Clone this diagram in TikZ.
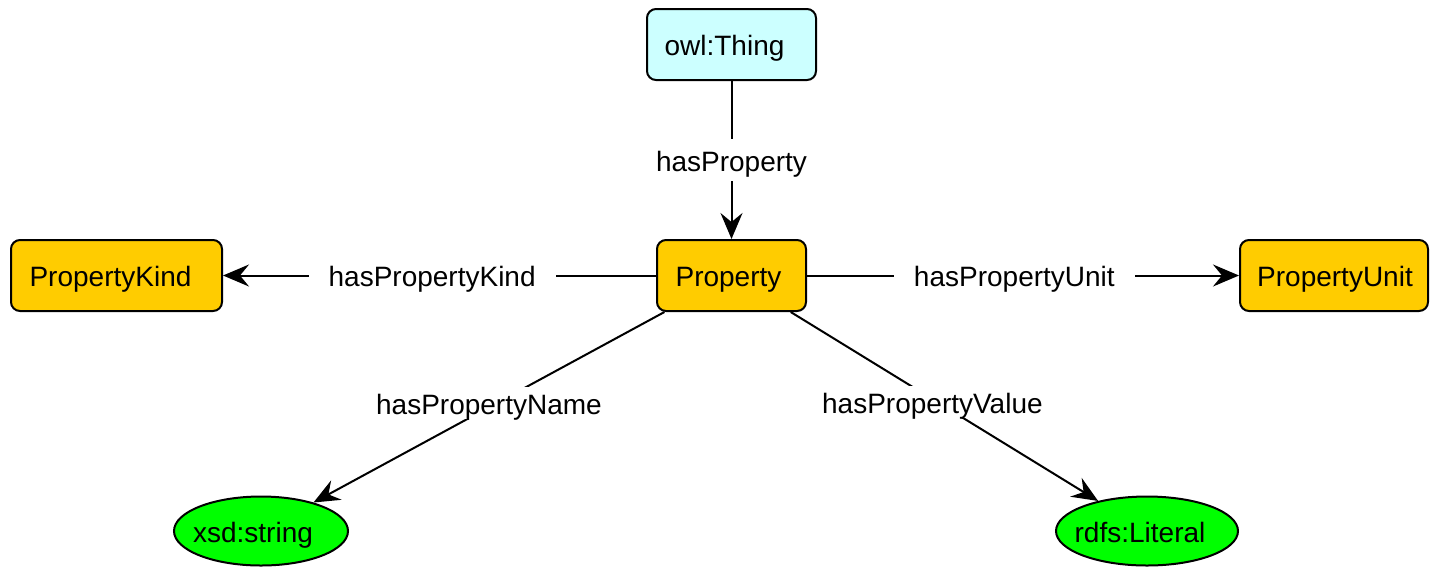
\documentclass[tikz,border=0pt]{standalone}
\usepackage{fontspec}
\setmainfont{Liberation Sans}
\usetikzlibrary{arrows.meta,shapes.geometric}
\definecolor{thingfill}{HTML}{CCFFFF}
\definecolor{classfill}{HTML}{FFCC00}
\definecolor{literalfill}{HTML}{00FF00}
\begin{document}
\begin{tikzpicture}[x=1pt,y=-1pt,
  every node/.style={font=\fontsize{28}{32}\selectfont, text height=24pt, text depth=2pt},
  % nudges the text of a node sideways inside its outline
  nudge/.style={execute at begin node={\kern#1}},
  classbox/.style={draw=black, line width=2pt, rounded corners=9pt, fill=classfill,
    minimum height=71pt, inner sep=0pt},
  thingbox/.style={classbox, fill=thingfill},
  literal/.style={draw=black, line width=2pt, ellipse, fill=literalfill,
    minimum height=69pt, inner sep=0pt},
  rel/.style={line width=2pt, draw=black,
    -{Stealth[length=26pt, width=22pt, inset=9pt]}},
  rellabel/.style={fill=white, inner xsep=20pt, inner ysep=8pt},
  slantlabel/.style={fill=white, inner xsep=4pt, inner ysep=3pt, midway, yshift=4pt}]
  \useasboundingbox (0,0) rectangle (1439,566);

  % classes
  \node[thingbox, minimum width=169pt, nudge=-14pt] (thing) at (731.5,44.5) {owl:Thing};
  \node[classbox, minimum width=149pt, nudge=-6pt] (prop) at (731.5,275.5) {Property};
  \node[classbox, minimum width=211pt, nudge=-12pt] (kind) at (116.5,275.5) {PropertyKind};
  \node[classbox, minimum width=188pt, nudge=2pt] (unit) at (1334,275.5) {PropertyUnit};

  % datatypes
  \node[literal, minimum width=174pt, nudge=-16pt] (str) at (261,531) {xsd:string};
  \node[literal, minimum width=182pt, nudge=-14pt] (lit) at (1147,531) {rdfs:Literal};

  % relations
  \draw[rel] (thing) -- node[rellabel, midway] {hasProperty} (prop);
  \draw[rel] (prop) -- node[rellabel, pos=0.517] {hasPropertyKind} (kind);
  \draw[rel] (prop) -- node[rellabel, pos=0.48] {hasPropertyUnit} (unit);
  \draw[rel] (prop) -- node[slantlabel] {hasPropertyName} (str);
  \draw[rel] (prop) -- node[slantlabel, xshift=-12pt] {hasPropertyValue} (lit);
\end{tikzpicture}
\end{document}
